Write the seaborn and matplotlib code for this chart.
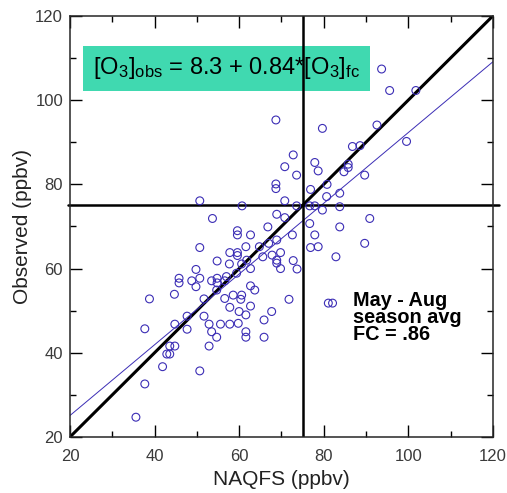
import numpy as np
import pandas as pd
import seaborn as sns
import matplotlib.pyplot as plt

# forecast (NAQFS) vs observed O3, ppbv
naqfs = [93.7, 95.6, 101.8, 68.7, 79.7, 92.6, 99.6, 86.8, 88.6, 72.8, 70.8, 77.9, 78.7, 73.6,
         85.8, 85.8, 84.8, 89.7, 68.7, 68.7, 80.8, 83.8, 80.7, 76.9, 70.8, 50.7, 60.7, 73.6,
         76.7, 77.9, 79.7, 83.8,
         53.7, 68.9, 70.8, 90.9, 66.8, 76.7, 83.8, 59.6, 59.6, 62.7, 72.6, 77.9, 68.9, 50.7,
         61.6, 64.8, 67.0, 76.9, 78.7, 89.7, 57.8, 59.6, 59.6, 65.6, 67.8, 69.8, 82.9, 54.8,
         57.7, 60.6, 68.9, 68.9, 72.8, 69.8, 62.7, 73.7, 61.8,
         49.8, 45.8, 45.8, 48.8, 50.7, 49.8, 53.5, 54.8, 54.8, 56.6, 59.4, 57.0, 44.7, 38.8,
         51.7, 54.7, 56.6, 58.6, 60.6, 60.4, 62.7, 63.7, 57.8, 60.0, 62.7, 61.6, 67.7, 65.9,
         65.9, 71.8, 81.1, 82.1, 47.7, 51.7, 44.8, 52.9, 55.6, 57.8, 59.8, 47.7, 37.7, 53.5,
         54.7, 61.6, 61.6, 52.9, 43.6, 44.8, 42.9, 43.6, 41.9, 50.7, 37.7, 35.6]
observed = [107.4, 102.3, 102.3, 95.3, 93.3, 94.1, 90.2, 89.0, 89.2, 87.0, 84.2, 85.2, 83.2, 82.2,
            84.8, 84.0, 83.0, 82.2, 80.1, 79.0, 80.0, 77.9, 77.1, 78.8, 76.1, 76.1, 74.9, 74.9,
            74.9, 74.9, 73.9, 74.7,
            71.9, 72.9, 72.1, 71.9, 69.9, 70.7, 69.9, 69.0, 68.0, 68.0, 68.0, 68.0, 66.8, 65.0,
            65.2, 65.2, 66.0, 65.0, 65.2, 66.0, 63.8, 63.8, 63.1, 62.8, 63.2, 63.8, 62.8, 61.8,
            61.1, 61.1, 62.0, 61.3, 61.9, 60.0, 60.0, 59.9, 62.0,
            59.8, 57.7, 56.6, 57.1, 57.7, 55.7, 57.1, 57.7, 56.6, 57.1, 58.9, 58.1, 53.9, 52.8,
            52.8, 54.9, 52.9, 53.7, 53.7, 52.7, 55.9, 54.9, 50.8, 49.8, 51.1, 49.0, 49.8, 47.8,
            43.7, 52.7, 51.8, 51.8, 48.7, 48.7, 46.8, 46.8, 46.8, 46.8, 47.0, 45.6, 45.7, 45.0,
            43.7, 45.0, 43.7, 41.6, 41.6, 41.6, 39.7, 39.7, 36.7, 35.7, 32.6, 24.7]

fit_intercept = 8.3
fit_slope = 0.84
threshold = 75
ax_range = [20, 120]

df = pd.DataFrame({'naqfs': naqfs, 'observed': observed})

sns.set_style('ticks')
plt.rcParams['font.family'] = ['Liberation Sans', 'DejaVu Sans']
plt.rcParams['mathtext.fontset'] = 'custom'
plt.rcParams['mathtext.rm'] = 'Liberation Sans'
plt.rcParams['mathtext.it'] = 'Liberation Sans'

fig = plt.figure(figsize=(5.07, 4.93), dpi=100)
ax = fig.add_axes([0.138, 0.1136, 0.834, 0.854])

pt_color = '#3b2db5'
sns.scatterplot(data=df, x='naqfs', y='observed', s=32, facecolor='none',
                edgecolor=pt_color, linewidth=0.8, ax=ax, zorder=3)

# 1:1 line, regression line, threshold lines
xs = np.array(ax_range)
ax.plot(xs, xs, color='black', lw=2.2, zorder=2)
ax.plot(xs, fit_intercept + fit_slope * xs, color=pt_color, lw=0.7, zorder=2)
ax.plot([19.5, 121.4], [threshold, threshold], color='black', lw=1.8, clip_on=False, zorder=2)
ax.plot([threshold, threshold], ax_range, color='black', lw=1.8, zorder=2)

ax.set_xlim(ax_range)
ax.set_ylim(ax_range)
ax.set_xticks(range(20, 121, 20))
ax.set_yticks(range(20, 121, 20))
ax.set_xticks(range(30, 120, 20), minor=True)
ax.set_yticks(range(30, 120, 20), minor=True)
ax.tick_params(which='both', direction='in', top=True, right=True, width=1, colors='black',
               labelcolor='#3a3a3a', labelsize=12)
ax.tick_params(which='major', length=8.5)
ax.tick_params(which='minor', length=4)
ax.tick_params(axis='x', pad=9)
ax.tick_params(axis='y', pad=5)
for sp in ax.spines.values():
    sp.set_linewidth(1.1)

ax.set_xlabel('NAQFS (ppbv)', fontsize=15, labelpad=4, color='#222222')
ax.set_ylabel('Observed (ppbv)', fontsize=15, labelpad=2, color='#222222')

ax.text(25.4, 107.6, r'[O$_3$]$_{\mathrm{obs}}$ = 8.3 + 0.84*[O$_3$]$_{\mathrm{fc}}$',
        fontsize=17, va='center', ha='left', zorder=1, color='black',
        bbox=dict(boxstyle='square,pad=0.4', facecolor='#40d9b0', edgecolor='none'))
ax.text(86.9, 54.6, 'May - Aug\nseason avg\nFC = .86', fontsize=14.3, fontweight='bold',
        va='top', ha='left', linespacing=0.85, color='black')

plt.savefig('out.png', dpi=100)
plt.close()
